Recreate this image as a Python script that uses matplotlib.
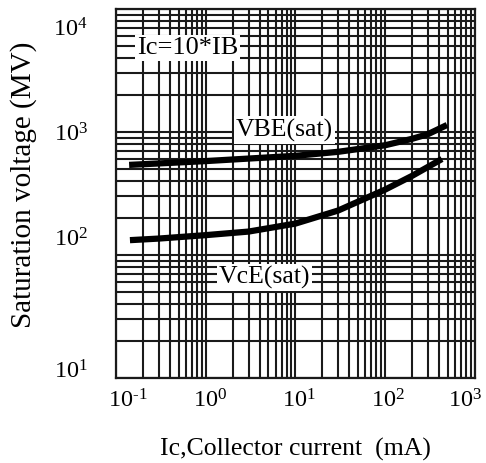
import matplotlib
matplotlib.use("Agg")
import matplotlib.pyplot as plt
from matplotlib.ticker import LogLocator, NullFormatter
from matplotlib.transforms import offset_copy

plt.rcParams['font.family'] = ['Liberation Serif', 'DejaVu Serif']
plt.rcParams['mathtext.fontset'] = 'custom'
plt.rcParams['mathtext.rm'] = 'Liberation Serif'
plt.rcParams['mathtext.it'] = 'Liberation Serif:italic'

# Data (mA, mV)
vbe_ic = [0.14, 0.3, 1.0, 3.0, 10.0, 30.0, 100.0, 200.0, 300.0, 490.0]
vbe_v = [540, 555, 580, 608, 640, 690, 780, 880, 960, 1140]
vce_ic = [0.143, 0.3, 1.0, 3.0, 10.0, 30.0, 100.0, 200.0, 430.0]
vce_v = [132, 136, 145, 155, 180, 230, 340, 440, 603]

x_ticks = [0.1, 1, 10, 100, 1000]
x_labels = ['10$^{\\text{-}1}$', '10$^{0}$', '10$^{1}$', '10$^{2}$', '10$^{3}$']
y_ticks = [10, 100, 1000, 10000]
y_labels = ['10$^{1}$', '10$^{2}$', '10$^{3}$', '10$^{4}$']

# label offsets in pixels (as seen in the reference)
x_label_dx = [12, 4, 4, 3, -10]
y_label_dy = [6, 15, -3, -21]

fig = plt.figure(figsize=(4.86, 4.63), dpi=100)
ax = fig.add_axes([0.2387, 0.1836, 0.977 - 0.2387, 0.9806 - 0.1836])
ax.set_xscale('log')
ax.set_yscale('log')
ax.set_xlim(0.1, 1000)
ax.set_ylim(10, 10000)

ax.xaxis.set_minor_locator(LogLocator(base=10, subs=range(2, 10)))
ax.yaxis.set_minor_locator(LogLocator(base=10, subs=range(2, 10)))
ax.xaxis.set_minor_formatter(NullFormatter())
ax.yaxis.set_minor_formatter(NullFormatter())
ax.set_xticks(x_ticks)
ax.set_yticks(y_ticks)
ax.set_xticklabels([])
ax.set_yticklabels([])
ax.tick_params(which='both', length=0)

xt = ax.get_xaxis_transform()
for v, lab, dx in zip(x_ticks, x_labels, x_label_dx):
    ax.text(v, 0, lab, fontsize=17.5, ha='center', va='top',
            transform=offset_copy(xt, fig, x=dx, y=-11, units='dots'))
yt = ax.get_yaxis_transform()
for v, lab, dy in zip(y_ticks, y_labels, y_label_dy):
    ax.text(0, v, lab, fontsize=17.5, ha='right', va='center',
            transform=offset_copy(yt, fig, x=-28, y=dy, units='dots'))

ax.grid(True, which='both', color='#1a1a1a', linewidth=1.5)
ax.set_axisbelow(True)
for s in ax.spines.values():
    s.set_linewidth(1.6)
    s.set_color('#1a1a1a')

ax.plot(vbe_ic, vbe_v, color='black', linewidth=4.5, solid_capstyle='butt', zorder=3)
ax.plot(vce_ic, vce_v, color='black', linewidth=4.5, solid_capstyle='butt', zorder=3)

box = dict(facecolor='white', edgecolor='none', pad=1.5)
ax.text(0.63, 4800, 'Ic=10*IB', fontsize=19, ha='center', va='center', bbox=box, zorder=4)
ax.text(7.55, 1037, 'VBE(sat)', fontsize=18.5, ha='center', va='center', bbox=box, zorder=4)
ax.text(4.5, 66, 'VcE(sat)', fontsize=18.5, ha='center', va='center', bbox=box, zorder=4)

fig.text(ax.get_position().x0 + ax.get_position().width * 0.5, 0.004,
         'Ic,Collector current  (mA)', fontsize=18.5, ha='center', va='bottom')
fig.text(0.048, 0.60, 'Saturation voltage (MV)', fontsize=21,
         rotation=90, ha='center', va='center')

fig.savefig('out.png', dpi=100)
